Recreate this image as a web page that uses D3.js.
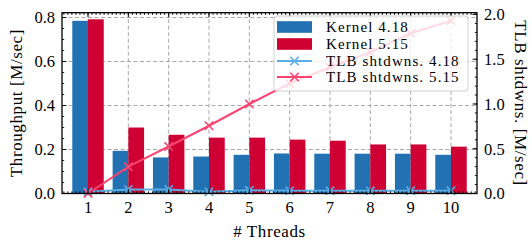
<!DOCTYPE html>
<html><head><meta charset="utf-8">
<script src="https://cdn.jsdelivr.net/npm/d3@7"></script>
<style>body{margin:0;background:#fff}svg{display:block}text{font-family:"Liberation Serif","Times New Roman",serif;fill:#000}</style>
</head><body><svg id="c" width="532" height="242"></svg>
<script>
const threads = [1,2,3,4,5,6,7,8,9,10];
const kernel418 = [0.785,0.194,0.164,0.168,0.176,0.182,0.181,0.181,0.181,0.176];
const kernel515 = [0.792,0.300,0.267,0.254,0.254,0.245,0.240,0.223,0.223,0.213];
const tlb418 = [0.02,0.045,0.045,0.02,0.035,0.03,0.03,0.03,0.03,0.03];
const tlb515 = [0.0,0.30,0.525,0.757,1.0,1.23,1.41,1.58,1.79,1.93];
const leftTicks = [0,0.2,0.4,0.6,0.8];
const rightTicks = [0,0.5,1.0,1.5,2.0];
const seriesNames = ["Kernel 4.18","Kernel 5.15","TLB shtdwns. 4.18","TLB shtdwns. 5.15"];
const colors = {k418:"#2271b3", k515:"#cf0034", t418:"#5aaee8", t515:"#fb4570"};

const svg = d3.select("#c");
const L=62, R=477, T=12.7, B=193.5;
const x = d3.scaleLinear().domain([0.355,10.645]).range([L,R]);
const yL = d3.scaleLinear().domain([0,0.822]).range([B,T]);
const yR = d3.scaleLinear().domain([0,2.02]).range([B,T]);
const bw = 0.39;
const fs = 16.5, fsT = 17, fsL = 15;

// grid
const g = svg.append("g");
g.selectAll(".gy").data(leftTicks.filter(d=>d>0)).join("line")
  .attr("x1",L).attr("x2",R).attr("y1",d=>yL(d)).attr("y2",d=>yL(d))
  .attr("stroke","#a8a8a8").attr("stroke-width",1).attr("stroke-dasharray","4,2.5");
g.selectAll(".gx").data(threads).join("line")
  .attr("x1",d=>x(d)).attr("x2",d=>x(d)).attr("y1",T).attr("y2",B)
  .attr("stroke","#a8a8a8").attr("stroke-width",1).attr("stroke-dasharray","4,2.5");

// bars
svg.append("g").selectAll("rect").data(threads).join("rect")
  .attr("x",(d)=>x(d-bw)).attr("width",x(bw)-x(0))
  .attr("y",(d,i)=>yL(kernel418[i])).attr("height",(d,i)=>B-yL(kernel418[i]))
  .attr("fill",colors.k418);
svg.append("g").selectAll("rect").data(threads).join("rect")
  .attr("x",(d)=>x(d)).attr("width",x(bw)-x(0))
  .attr("y",(d,i)=>yL(kernel515[i])).attr("height",(d,i)=>B-yL(kernel515[i]))
  .attr("fill",colors.k515);

// lines
function drawLine(vals,col){
  const line = d3.line().x((d,i)=>x(threads[i])).y(d=>yR(d));
  svg.append("path").datum(vals).attr("d",line).attr("fill","none")
    .attr("stroke",col).attr("stroke-width",2);
  const s=4.2;
  svg.append("g").selectAll("path").data(vals).join("path")
    .attr("d",(d,i)=>{const cx=x(threads[i]),cy=yR(d);return `M${cx-s},${cy-s}L${cx+s},${cy+s}M${cx-s},${cy+s}L${cx+s},${cy-s}`;})
    .attr("stroke",col).attr("stroke-width",1.6);
}
drawLine(tlb418,colors.t418);
drawLine(tlb515,colors.t515);

// frame
svg.append("rect").attr("x",L).attr("y",T).attr("width",R-L).attr("height",B-T)
  .attr("fill","none").attr("stroke","#000").attr("stroke-width",1.3);

// ticks
const tk = svg.append("g").attr("stroke","#000").attr("stroke-width",0.9);
const minorL = d3.range(0,0.8201,0.05), minorR = d3.range(0,2.0001,0.1), minorX = d3.range(0.4,10.61,0.1);
minorL.forEach(v=>{tk.append("line").attr("x1",L).attr("x2",L+2.2).attr("y1",yL(v)).attr("y2",yL(v));});
leftTicks.forEach(v=>{tk.append("line").attr("x1",L).attr("x2",L+4.5).attr("y1",yL(v)).attr("y2",yL(v));});
minorR.forEach(v=>{tk.append("line").attr("x1",R).attr("x2",R-2.2).attr("y1",yR(v)).attr("y2",yR(v));});
rightTicks.forEach(v=>{tk.append("line").attr("x1",R).attr("x2",R-4.5).attr("y1",yR(v)).attr("y2",yR(v));});
minorX.forEach(v=>{tk.append("line").attr("x1",x(v)).attr("x2",x(v)).attr("y1",T).attr("y2",T+2.2);
  tk.append("line").attr("x1",x(v)).attr("x2",x(v)).attr("y1",B).attr("y2",B-2.2);});
threads.forEach(v=>{tk.append("line").attr("x1",x(v)).attr("x2",x(v)).attr("y1",T).attr("y2",T+4.5);
  tk.append("line").attr("x1",x(v)).attr("x2",x(v)).attr("y1",B).attr("y2",B-4.5);});

// tick labels
svg.append("g").selectAll("text").data(leftTicks).join("text")
  .attr("x",L-7).attr("y",d=>yL(d)).attr("dy","0.35em").attr("text-anchor","end")
  .attr("font-size",fs).text(d=>d.toFixed(1));
svg.append("g").selectAll("text").data(rightTicks).join("text")
  .attr("x",R+7).attr("y",d=>yR(d)).attr("dy","0.35em").attr("text-anchor","start")
  .attr("font-size",fs).text(d=>d.toFixed(1));
svg.append("g").selectAll("text").data(threads).join("text")
  .attr("x",d=>x(d)).attr("y",B+19).attr("text-anchor","middle")
  .attr("font-size",fs).text(d=>d);

// axis titles
svg.append("text").attr("transform",`translate(22,${(T+B)/2}) rotate(-90)`)
  .attr("text-anchor","middle").attr("font-size",fsT).attr("letter-spacing",0.6).text("Throughput [M/sec]");
svg.append("text").attr("transform",`translate(515,${(T+B)/2}) rotate(90)`)
  .attr("text-anchor","middle").attr("font-size",fsT).attr("letter-spacing",0.6).text("TLB shtdwns. [M/sec]");
svg.append("text").attr("x",(L+R)/2).attr("y",237).attr("text-anchor","middle")
  .attr("font-size",fsT).attr("letter-spacing",0.6).text("# Threads");

// legend
const lg = svg.append("g");
lg.append("rect").attr("x",274).attr("y",16).attr("width",194).attr("height",75).attr("rx",3)
  .attr("fill","#fff").attr("fill-opacity",0.8).attr("stroke","#d0d0d0").attr("stroke-width",1);
const ly = [27,44,61,77];
const lcol = [colors.k418,colors.k515,colors.t418,colors.t515];
seriesNames.forEach((n,i)=>{
  if(i<2){ lg.append("rect").attr("x",277).attr("y",ly[i]-5.8).attr("width",35).attr("height",11.6).attr("fill",lcol[i]); }
  else {
    lg.append("line").attr("x1",277).attr("x2",312).attr("y1",ly[i]).attr("y2",ly[i]).attr("stroke",lcol[i]).attr("stroke-width",2);
    const cx=294.5,cy=ly[i],s=4.2;
    lg.append("path").attr("d",`M${cx-s},${cy-s}L${cx+s},${cy+s}M${cx-s},${cy+s}L${cx+s},${cy-s}`).attr("stroke",lcol[i]).attr("stroke-width",1.6);
  }
  lg.append("text").attr("x",326).attr("y",ly[i]).attr("dy","0.35em").attr("font-size",fsL).attr("letter-spacing",1.1).text(n);
});
</script></body></html>
